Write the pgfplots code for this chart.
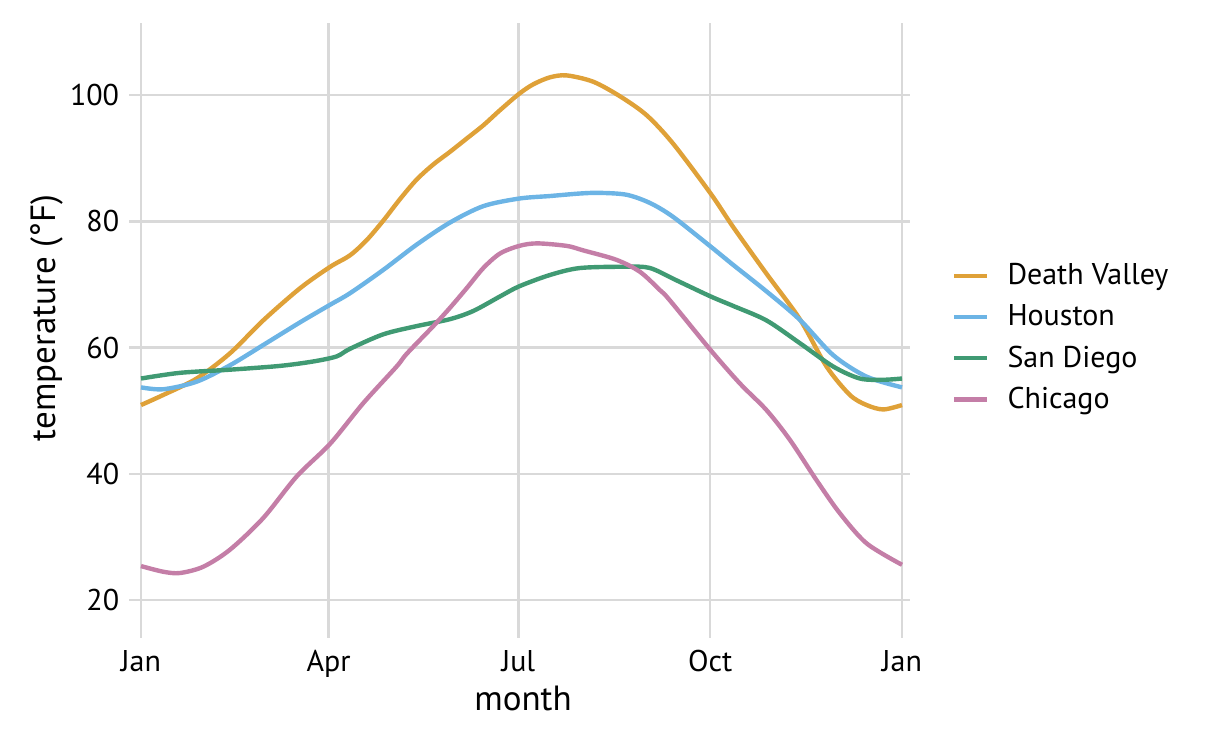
\documentclass[border=0pt]{standalone}
\usepackage{pgfplots}
\pgfplotsset{compat=1.18}
\usepackage{pgfplotstable}
\usepackage{fontspec}
\setmainfont{PT Sans}
\definecolor{dvc}{RGB}{223,161,56}
\definecolor{hoc}{RGB}{108,180,229}
\definecolor{sdc}{RGB}{64,154,115}
\definecolor{chc}{RGB}{196,126,167}
\definecolor{gridc}{RGB}{217,217,217}

\pgfplotstableread{
day temp
0 50.9
10.7 52.5
26.7 55.1
42.7 59.1
58.6 64.3
76.3 69.4
90.8 72.8
100.2 74.6
108.2 77.0
116.2 80.1
124.2 83.5
132.2 86.6
140.2 89.0
148.2 91.0
156.2 93.1
164.2 95.2
172.2 97.6
181.4 100.2
188.2 101.7
196.2 102.8
204.2 103.1
216.9 102.1
229.7 99.8
242.5 96.8
255.2 92.3
273.2 84.4
284 79.1
300 71.7
316 64.5
328.8 57
340 52.5
348 50.9
356 50.2
365 50.9
}\deathvalley

\pgfplotstableread{
day temp
0 53.7
10.7 53.4
26.7 54.6
42.7 57.2
58.6 60.4
76.3 64.0
90.8 66.8
100.2 68.6
116.2 72.3
132.2 76.3
148.2 79.8
164.2 82.4
181.4 83.6
196.2 84.0
210.6 84.4
220.1 84.5
232.9 84.2
244.1 82.9
255.2 80.7
273.2 76.0
284 73.1
300 68.9
316 64.4
332 58.8
348 55.4
365 53.7
}\houston

\pgfplotstableread{
day temp
0 55.1
18.7 56.0
42.7 56.5
66.7 57.1
82.6 57.8
93.8 58.6
100.2 59.8
116.2 62.1
132.2 63.4
148.2 64.5
159.4 65.8
172.2 68.1
181.4 69.7
196.2 71.5
210.6 72.6
232.9 72.8
244.1 72.6
256.5 70.7
273.2 68.1
284 66.6
300 64.3
316 60.7
332 57.0
344.8 55.1
356 54.9
365 55.1
}\sandiego

\pgfplotstableread{
day temp
0 25.4
10.7 24.5
18.7 24.3
29.9 25.3
42.7 28.0
58.6 33.0
74.7 39.6
90.8 44.8
106.6 51.2
122.6 57.0
127.4 59.0
140.2 63.4
148.2 66.3
156.2 69.4
164.2 72.6
172.2 74.9
181.4 76.1
190 76.5
204.2 76.1
212 75.4
228 73.9
239.3 72.0
248.9 69.1
253.6 67.5
273.2 59.6
287.3 54.3
300 50.1
311.2 45.4
324 39.0
335.1 33.8
348 29.0
365 25.6
}\chicago

\begin{document}
\begin{tikzpicture}
\useasboundingbox (0,0) rectangle (610pt,371pt);
\begin{axis}[
  at={(64.65pt,52pt)}, anchor=south west,
  scale only axis,
  width=390.35pt, height=307.5pt,
  xmin=-5.61, xmax=368.84,
  ymin=14.01, ymax=111.4,
  axis line style={draw=none},
  major tick length=0pt,
  xtick={0,90,181,273,365},
  xticklabels={Jan,Apr,Jul,Oct,Jan},
  ytick={20,40,60,80,100},
  grid=major,
  major grid style={draw=gridc, line width=1.25pt},
  /pgf/number format/assume math mode=true,
  ticklabel style={font=\fontsize{15}{18}\selectfont, inner sep=0pt},
  xticklabel style={anchor=north, yshift=-6pt},
  yticklabel style={anchor=east, xshift=-4.9pt},
  xlabel={month},
  ylabel={temperature (°F)},
  label style={font=\fontsize{17.5}{21}\selectfont},
  xlabel style={at={(axis description cs:0.5043,0)}, anchor=base, yshift=-36.5pt, inner sep=0pt},
  ylabel style={at={(axis description cs:-0.1054,0.5203)}, anchor=center, inner sep=0pt},
  legend style={at={(axis description cs:1.0534,0.4885)}, anchor=west, draw=none, fill=none,
    font=\fontsize{15}{18}\selectfont, inner sep=0pt, row sep=8.5pt,
    nodes={inner sep=0pt, anchor=west},
    /tikz/every odd column/.append style={column sep=9pt}},
  legend cell align=left,
  legend image code/.code={\draw[#1, line width=2.2pt] (0pt,0pt) -- (16.5pt,0pt);},
  every axis plot/.append style={line width=2.2pt, line join=round},
]
\addplot[dvc, smooth, tension=0.5] table {\deathvalley};
\addlegendentry{Death Valley}
\addplot[hoc, smooth, tension=0.5] table {\houston};
\addlegendentry{Houston}
\addplot[sdc, smooth, tension=0.5] table {\sandiego};
\addlegendentry{San Diego}
\addplot[chc, smooth, tension=0.5] table {\chicago};
\addlegendentry{Chicago}
\end{axis}
\end{tikzpicture}
\end{document}
